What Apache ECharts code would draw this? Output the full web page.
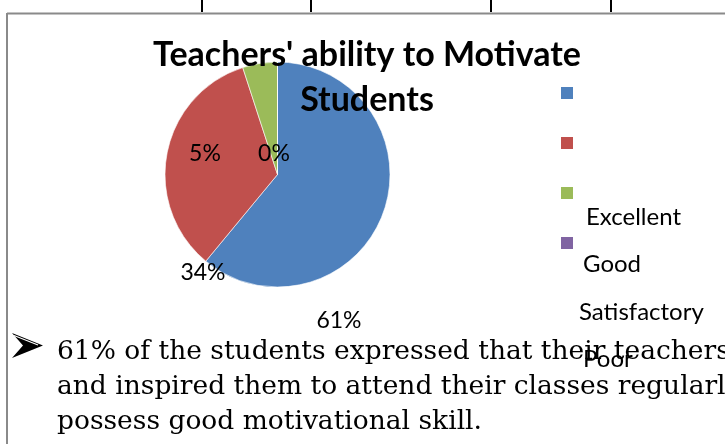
<!DOCTYPE html>
<html>
<head>
<meta charset="utf-8">
<script src="https://cdn.jsdelivr.net/npm/echarts@6/dist/echarts.min.js"></script>
<style>
html,body{margin:0;padding:0;background:#fff;}
#chart{width:725px;height:444px;}
</style>
</head>
<body>
<div id="chart"></div>
<script>
var titleText = "Teachers' ability to Motivate\nStudents";
var categories = ['Excellent', 'Good', 'Satisfactory', 'Poor'];
var values = [61, 34, 5, 0];
var colors = ['#4F81BD', '#C0504D', '#9BBB59', '#8064A2'];
var bulletLines = [
  '61% of the students expressed that their teachers',
  'and inspired them to attend their classes regularly',
  'possess good motivational skill.'
];

// label placement (as rendered in the reference)
var labelPos = [[339, 321], [203, 273], [205, 154], [274, 154]];
var legendTextPad = [7, 4, 0, 4];

var chart = echarts.init(document.getElementById('chart'), null, {renderer: 'canvas'});

var graphics = [
  {type: 'line', shape: {x1: 7, y1: 13.5, x2: 725, y2: 13.5}, style: {stroke: '#8a8a8a', lineWidth: 2}},
  {type: 'line', shape: {x1: 7, y1: 13, x2: 7, y2: 444}, style: {stroke: '#8a8a8a', lineWidth: 2}}
];
[202, 311, 491, 611].forEach(function (x) {
  graphics.push({type: 'line', shape: {x1: x, y1: 0, x2: x, y2: 12}, style: {stroke: '#000', lineWidth: 2}});
});
// bullet arrowhead
graphics.push({type: 'polygon', shape: {points: [[12, 333], [43, 345.5], [12, 358], [23, 345.5]]}, style: {fill: '#000'}});
graphics.push({type: 'polyline', shape: {points: [[14, 335.5], [38, 345]]}, style: {stroke: '#fff', lineWidth: 1.2}});
bulletLines.forEach(function (t, i) {
  graphics.push({type: 'text', x: 57, y: 352 + i * 35, style: {text: t, font: '26.5px "DejaVu Serif"', fill: '#000', textVerticalAlign: 'middle'}});
});

chart.setOption({
  backgroundColor: '#fff',
  animation: false,
  color: colors,
  title: {
    text: titleText,
    left: 367,
    top: 33,
    padding: 0,
    textAlign: 'center',
    textStyle: {fontFamily: 'Lato', fontWeight: 'bold', fontSize: 34, lineHeight: 45, color: '#000'}
  },
  legend: [
    {
      orient: 'vertical', left: 559, top: 85, padding: 0, itemWidth: 14, itemHeight: 14, itemGap: 34,
      selectedMode: false, data: categories, icon: 'rect',
      textStyle: {color: 'rgba(0,0,0,0)', fontSize: 12}
    },
    {
      orient: 'vertical', left: 573, top: 205, padding: 0, itemWidth: 0, itemHeight: 0, itemGap: 23.5,
      selectedMode: false, icon: 'rect',
      data: categories.map(function (c, i) { return {name: c, textStyle: {padding: [0, 0, 0, legendTextPad[i]]}}; }),
      textStyle: {color: '#000', fontFamily: 'Lato', fontSize: 24, lineHeight: 24}
    }
  ],
  series: [{
    type: 'pie',
    center: [277.5, 174.5],
    radius: 112.5,
    startAngle: 90,
    clockwise: true,
    stillShowZeroSum: true,
    avoidLabelOverlap: false,
    data: categories.map(function (c, i) { return {name: c, value: values[i]}; }),
    itemStyle: {borderColor: '#fff', borderWidth: 0.6},
    label: {show: true, formatter: '{d}%', color: '#000', fontFamily: 'Lato', fontSize: 23},
    labelLine: {show: false},
    labelLayout: function (p) {
      var pos = labelPos[p.dataIndex];
      return {x: pos[0], y: pos[1], align: 'center', verticalAlign: 'middle'};
    },
    emphasis: {disabled: true}
  }],
  graphic: graphics
});
</script>
</body>
</html>
